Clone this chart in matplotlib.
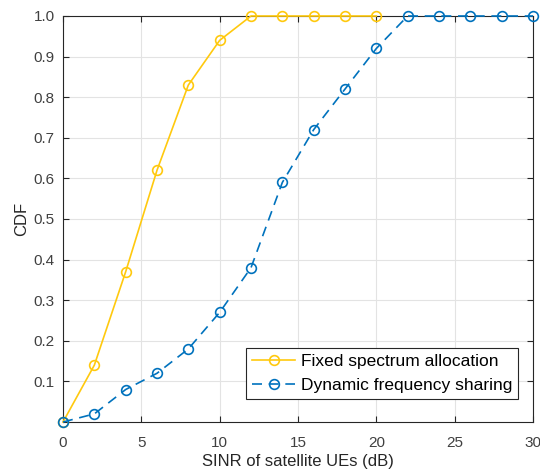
import matplotlib
matplotlib.use("Agg")
import matplotlib.pyplot as plt
from matplotlib.ticker import FormatStrFormatter

plt.rcParams['font.family'] = ['Liberation Sans', 'DejaVu Sans']

x_fixed = [0, 2, 4, 6, 8, 10, 12, 14, 16, 18, 20]
cdf_fixed = [0.0, 0.14, 0.37, 0.62, 0.83, 0.94, 1.0, 1.0, 1.0, 1.0, 1.0]
x_dyn = [0, 2, 4, 6, 8, 10, 12, 14, 16, 18, 20, 22, 24, 26, 28, 30]
cdf_dyn = [0.0, 0.02, 0.08, 0.12, 0.18, 0.27, 0.38, 0.59, 0.72, 0.82, 0.92,
           1.0, 1.0, 1.0, 1.0, 1.0]
xticks = [0, 5, 10, 15, 20, 25, 30]
yticks = [0.1, 0.2, 0.3, 0.4, 0.5, 0.6, 0.7, 0.8, 0.9, 1.0]

fig = plt.figure(figsize=(5.4, 4.7), dpi=100)
ax = fig.add_axes([63/540, 1 - 422/470, 470/540, 406/470])

yellow = '#FFC90E'
blue = '#0072BD'
ax.plot(x_fixed, cdf_fixed, '-o', color=yellow, lw=1.2, ms=7,
        mfc='none', mew=1.2, label='Fixed spectrum allocation', clip_on=False, zorder=3)
ax.plot(x_dyn, cdf_dyn, '--o', color=blue, lw=1.2, ms=7, dashes=(6, 4),
        mfc='none', mew=1.2, label='Dynamic frequency sharing', clip_on=False, zorder=4)

ax.set_xlim(0, 30)
ax.set_ylim(0, 1.0)
ax.set_xticks(xticks)
ax.set_yticks(yticks)
ax.yaxis.set_major_formatter(FormatStrFormatter('%.1f'))
ax.grid(True, color='#E3E3E3', lw=0.8)
ax.set_axisbelow(True)
ax.tick_params(direction='in', top=True, right=True, length=4,
               colors='#262626', labelcolor='#404040', labelsize=11)
ax.tick_params(axis='x', pad=10)
ax.tick_params(axis='y', pad=6)
for s in ax.spines.values():
    s.set_color('#262626')
    s.set_linewidth(0.8)
ax.set_xlabel('SINR of satellite UEs (dB)', fontsize=12, color='#262626', labelpad=3)
ax.set_ylabel('CDF', fontsize=12, color='#262626', labelpad=3)

leg = ax.legend(loc='lower right', bbox_to_anchor=(518/540, 1 - 399/470),
                bbox_transform=fig.transFigure, fontsize=12.5, fancybox=False,
                edgecolor='#262626', framealpha=1, borderaxespad=0,
                handlelength=2.5, handletextpad=0.3, borderpad=0.35,
                labelspacing=0.5)
leg.get_frame().set_linewidth(0.8)

fig.savefig('out.png', dpi=100)
